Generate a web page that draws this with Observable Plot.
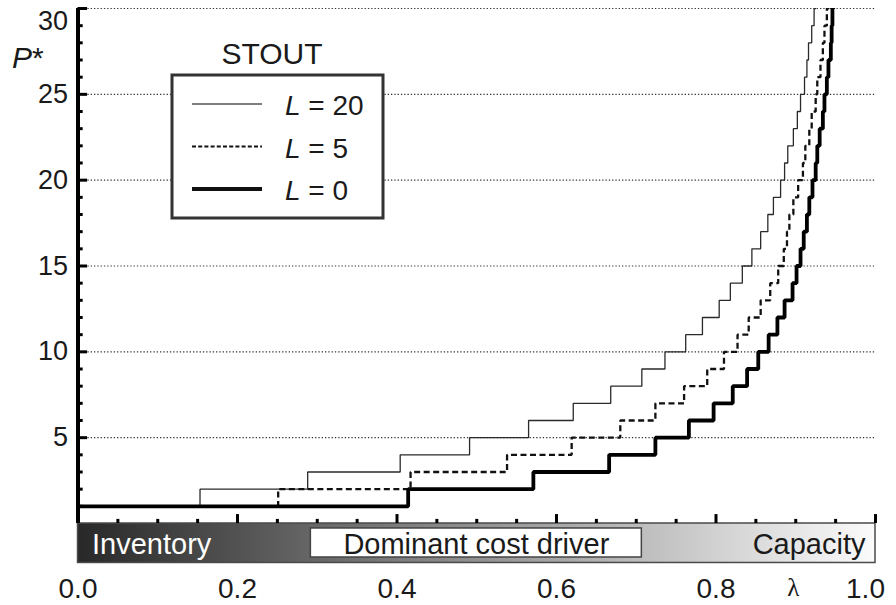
<!DOCTYPE html>
<html><head><meta charset="utf-8">
<script src="https://cdn.jsdelivr.net/npm/d3@7"></script>
<script src="https://cdn.jsdelivr.net/npm/@observablehq/plot@0.6"></script>
<style>
html,body{margin:0;padding:0;background:#fff;}
#chart{position:relative;width:896px;height:605px;overflow:hidden;}
</style></head><body><div id="chart"></div>
<script>
// ---- data ----
const seriesNames = ["L = 20", "L = 5", "L = 0"];
const legendTitle = "STOUT";
// P* levels (integer steps)
const pLevels = [1,2,3,4,5,6,7,8,9,10,11,12,13,14,15,16,17,18,19,20,21,22,23,24,25,26,27,28,29,30,31];
// lambda at which P* steps from level n to n+1
const stepsL20 = [0.153,0.288,0.404,0.491,0.565,0.621,0.668,0.707,0.736,0.762,0.783,0.804,0.818,0.833,0.845,0.856,0.865,0.872,0.881,0.886,0.890,0.897,0.902,0.906,0.911,0.914,0.916,0.920,0.923,0.925];
const stepsL5  = [0.251,0.417,0.538,0.619,0.680,0.724,0.760,0.789,0.810,0.827,0.841,0.856,0.868,0.878,0.885,0.889,0.892,0.897,0.903,0.909,0.912,0.917,0.920,0.925,0.927,0.931,0.934,0.936,0.939,0.941];
const stepsL0  = [0.414,0.571,0.666,0.724,0.766,0.797,0.821,0.839,0.853,0.866,0.877,0.886,0.896,0.901,0.906,0.910,0.914,0.917,0.921,0.925,0.927,0.930,0.934,0.936,0.939,0.941,0.944,0.945,0.946,0.947];
const yTicks = [5,10,15,20,25,30];
const yMinorTicks = [1,2,3,4,6,7,8,9,11,12,13,14,16,17,18,19,21,22,23,24,26,27,28,29];
const xTicks = [0,0.2,0.4,0.6,0.8,1.0];
const xTickLabels = ["0.0","0.2","0.4","0.6","0.8","1.0"];
const xMinorTicks = [0.05,0.1,0.15,0.25,0.3,0.35,0.45,0.5,0.55,0.65,0.7,0.75,0.85,0.9,0.95];
const xAxisName = "λ";
const yAxisName = "P";
const regionNames = ["Inventory","Dominant cost driver","Capacity"];
const regionBounds = [0, 0.292, 0.707, 1];

// ---- styles ----
const styles = {
  "L = 20": {stroke:"#2a2a2a", strokeWidth:1.3},
  "L = 5":  {stroke:"#111", strokeWidth:2.3, strokeDasharray:"6,3.5"},
  "L = 0":  {stroke:"#000", strokeWidth:3.8}
};
const font = "'Liberation Sans', Arial, Helvetica, sans-serif";

function toPoints(steps){
  const pts = [{x:0, y:pLevels[0]}];
  steps.forEach((t,i)=>pts.push({x:t, y:pLevels[i+1]}));
  return pts;
}
const seriesSteps = {"L = 20": stepsL20, "L = 5": stepsL5, "L = 0": stepsL0};

const lineMarks = seriesNames.map(name =>
  Plot.line(toPoints(seriesSteps[name]), {x:"x", y:"y", curve:"step-after", clip:true,
    ...styles[name], strokeLinejoin:"miter", strokeLinecap:"butt"}));

const svg = Plot.plot({
  width: 896, height: 605,
  marginLeft: 77.5, marginRight: 21, marginTop: 8, marginBottom: 82,
  x: {domain:[0,1], axis:null},
  y: {domain:[0,30], axis:null},
  style: {fontFamily: font, background:"white", overflow:"visible", color:"#1a1a1a"},
  marks: [
    // grid
    Plot.ruleY(yTicks, {y: d=>d, stroke:"#333", strokeWidth:1.2, strokeDasharray:"1.3,2"}),
    // bottom cost-driver bar
    Plot.rect([regionNames], {x1: regionBounds[0], x2: regionBounds[3], y1: 0, y2: -2.3,
      fill:"url(#barGrad)", stroke:"#4a4a4a", strokeWidth:1.5}),
    Plot.rect([regionNames[1]], {x1: regionBounds[1], x2: regionBounds[2], y1: -0.29, y2: -1.98,
      fill:"white", stroke:"#444", strokeWidth:1.5}),
    Plot.text([regionNames[0]], {x: regionBounds[0], y: -1.25, text: d=>d, dx: 14, textAnchor:"start", fill:"white", fontSize: 29}),
    Plot.text([regionNames[1]], {x: (regionBounds[1]+regionBounds[2])/2, y: -1.25, text: d=>d, textAnchor:"middle", fill:"#1a1a1a", fontSize: 29}),
    Plot.text([regionNames[2]], {x: regionBounds[3], y: -1.25, text: d=>d, dx: -10, textAnchor:"end", fill:"#1a1a1a", fontSize: 29}),
    // series
    ...lineMarks,
    // x ticks (pointing up)
    Plot.ruleX(xTicks, {x: d=>d, y1: 0, y2: 0.52, stroke:"#000", strokeWidth:3}),
    Plot.ruleX(xMinorTicks, {x: d=>d, y1: 0, y2: 0.24, stroke:"#000", strokeWidth:3}),
    // y axis
    Plot.ruleX([0], {y1: 0, y2: 30, stroke:"#000", strokeWidth:4}),
    Plot.ruleY(yTicks, {y: d=>d, x1: 0, x2: 0.012, stroke:"#000", strokeWidth:3}),
    Plot.ruleY(yMinorTicks, {y: d=>d, x1: 0, x2: 0.0065, stroke:"#000", strokeWidth:3}),
    // tick labels
    Plot.text(yTicks.slice(0,5), {x: 0, y: d=>d, text: d=>String(d), dx: -10, textAnchor:"end", fontSize: 27, fill:"#1a1a1a"}),
    Plot.text(yTicks.slice(5), {x: 0, y: d=>d, text: d=>String(d), dx: -10, dy: 13, textAnchor:"end", fontSize: 27, fill:"#1a1a1a"}),
    Plot.text(xTicks.slice(0,5), {x: d=>d, y: 0, text: (d,i)=>xTickLabels[i], dy: 66, textAnchor:"middle", fontSize: 28, fill:"#1a1a1a"}),
    Plot.text(xTicks.slice(5), {x: d=>d, y: 0, text: (d,i)=>xTickLabels[5+i], dy: 66, dx: -10, textAnchor:"middle", fontSize: 28, fill:"#1a1a1a"}),
    Plot.text([xAxisName], {x: 0.897, y: 0, text: d=>d, dy: 64, textAnchor:"middle", fontSize: 25, fontFamily:"'Liberation Serif', 'DejaVu Serif', serif", fill:"#1a1a1a"})
  ]
});

const root = d3.select(svg);
// gradient for the cost-driver bar
const defs = root.insert("defs", ":first-child");
const g = defs.append("linearGradient").attr("id","barGrad").attr("x1","0").attr("x2","1").attr("y1","0").attr("y2","0");
g.append("stop").attr("offset","0").attr("stop-color","#282828");
g.append("stop").attr("offset","1").attr("stop-color","#fbfbfb");

// y axis name P*
const pt = root.append("text").attr("x", 12).attr("y", 68).attr("font-size", 30)
  .attr("text-anchor","start").attr("fill","#1a1a1a").attr("font-family", font);
pt.append("tspan").attr("font-style","italic").text(yAxisName);
pt.append("tspan").text("*");

// legend
const leg = root.append("g").attr("font-family", font).attr("fill","#1a1a1a");
leg.append("text").attr("x", 272).attr("y", 64).attr("text-anchor","middle").attr("font-size", 30).text(legendTitle);
leg.append("rect").attr("x",172).attr("y",75).attr("width",211).attr("height",143)
  .attr("fill","white").attr("stroke","#333").attr("stroke-width",3);
const legendLineStyles = {"L = 20": {w:1.5, c:"#555", dash:null}, "L = 5": {w:2, c:"#111", dash:"4,2.2"}, "L = 0": {w:4, c:"#111", dash:null}};
seriesNames.forEach((name,i)=>{
  const yy = 104 + i*42.5;
  const st = legendLineStyles[name];
  leg.append("line").attr("x1",192).attr("x2",262).attr("y1",yy).attr("y2",yy)
    .attr("stroke",st.c).attr("stroke-width",st.w).attr("stroke-dasharray",st.dash);
  const t = leg.append("text").attr("x",285).attr("y",yy+11).attr("font-size",28).attr("text-anchor","start");
  const parts = name.split(" ");
  t.append("tspan").attr("font-style","italic").text(parts[0]);
  t.append("tspan").text(" " + parts.slice(1).join(" "));
});

document.getElementById("chart").appendChild(svg);
</script>
</body></html>
